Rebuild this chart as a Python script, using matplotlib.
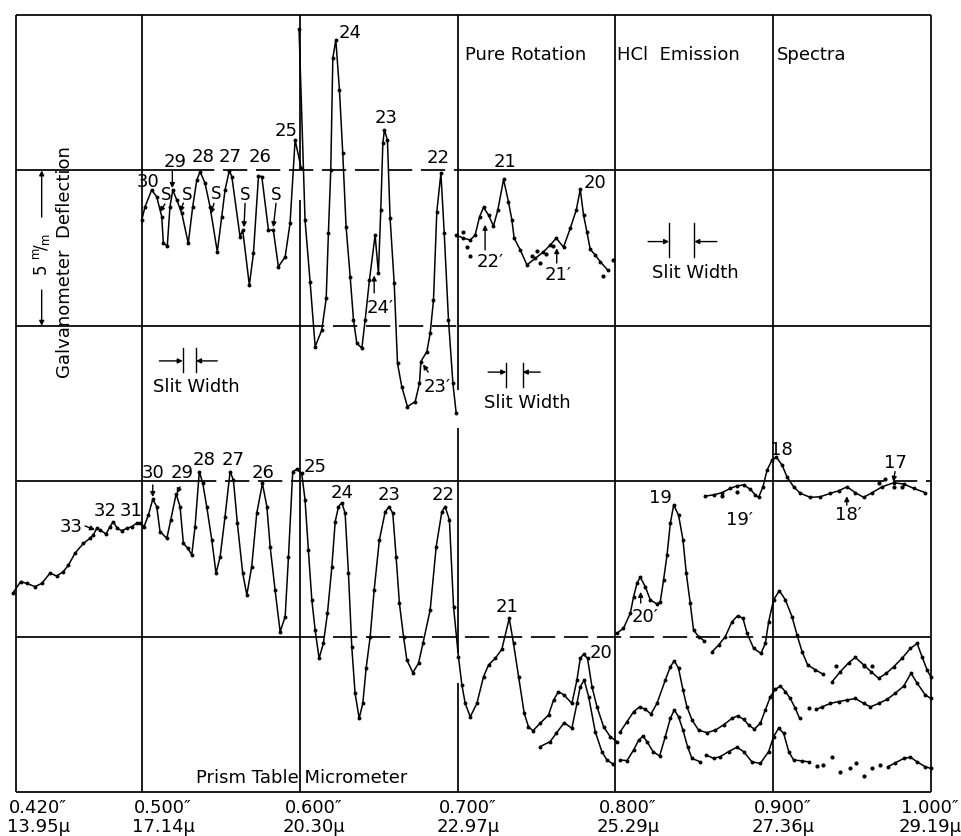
import matplotlib
matplotlib.use("Agg")
import matplotlib.pyplot as plt

plt.rcParams['font.family'] = ['DejaVu Sans']

# ---------------- data (x: prism table micrometer reading in inches, y: deflection in mm) ----
grid_x = [0.42, 0.50, 0.60, 0.70, 0.80, 0.90, 1.00]
grid_y = [0, 5, 10, 15, 20, 25]
tick_inch = ['0.420″', '0.500″', '0.600″', '0.700″', '0.800″', '0.900″', '1.000″']
tick_mu = ['13.95μ', '17.14μ', '20.30μ', '22.97μ', '25.29μ', '27.36μ', '29.19μ']

# upper record, lines 30 .. 25
upper_a_x = [0.4998, 0.5019, 0.5061, 0.5093, 0.5125, 0.5135, 0.5160, 0.5177, 0.5195, 0.5220,
             0.5252, 0.5293, 0.5321, 0.5347, 0.5368, 0.5399, 0.5431, 0.5477, 0.5505, 0.5526,
             0.5553, 0.5569, 0.5621, 0.5638, 0.5680, 0.5706, 0.5738, 0.5759, 0.5801, 0.5832,
             0.5864, 0.5907, 0.5938, 0.5970, 0.6008]
upper_a_y = [18.40, 18.83, 19.37, 19.15, 18.51, 17.65, 17.57, 18.83, 19.37, 19.05,
             18.62, 17.65, 18.83, 19.69, 19.96, 19.59, 18.83, 17.38, 18.51, 19.37,
             19.99, 19.80, 17.87, 18.08, 16.31, 17.33, 19.82, 19.80, 18.08, 18.08,
             16.90, 17.22, 18.30, 20.98, 20.08]
# upper record, lines 24 .. 22
upper_b_x = [0.5995, 0.6033, 0.6065, 0.6097, 0.6139, 0.6167, 0.6181, 0.6196, 0.6209, 0.6228,
             0.6251, 0.6272, 0.6293, 0.6319, 0.6340, 0.6361, 0.6393, 0.6414, 0.6441, 0.6477,
             0.6498, 0.6513, 0.6526, 0.6536, 0.6555, 0.6572, 0.6598, 0.6619, 0.6646, 0.6682,
             0.6731, 0.6758, 0.6767, 0.6805, 0.6826, 0.6847, 0.6868, 0.6894, 0.6915, 0.6942,
             0.6970, 0.6991]
upper_b_y = [24.55, 18.40, 16.42, 14.33, 14.86, 15.88, 17.98, 20.01, 23.61, 24.20,
             22.59, 20.55, 18.19, 16.58, 15.19, 14.44, 14.28, 15.19, 16.47, 17.92,
             16.69, 18.73, 20.87, 21.30, 20.98, 18.46, 16.37, 13.79, 13.04, 12.40,
             12.56, 13.15, 13.85, 14.17, 14.76, 15.83, 18.67, 19.91, 17.98, 15.19,
             13.15, 12.18]
# upper record, lines 21 .. 20
upper_c_x = [0.6991, 0.7037, 0.7080, 0.7111, 0.7139, 0.7164, 0.7196, 0.7227, 0.7255, 0.7291,
             0.7322, 0.7344, 0.7358, 0.7397, 0.7439, 0.7492, 0.7544, 0.7587, 0.7625, 0.7671,
             0.7714, 0.7752, 0.7777, 0.7798, 0.7819, 0.7840, 0.7872, 0.7904, 0.7950]
upper_c_y = [17.92, 17.82, 17.76, 17.92, 18.51, 18.81, 18.56, 18.21, 18.73, 19.71,
             18.99, 18.40, 17.82, 17.44, 16.96, 17.17, 17.38, 17.60, 17.82, 17.53,
             18.14, 18.73, 19.39, 18.56, 18.03, 17.46, 17.28, 17.06, 16.80]
upper_c_dots_x = [0.7035, 0.7060, 0.7080, 0.7471, 0.7502, 0.7523, 0.7561, 0.7604, 0.7921, 0.7986]
upper_c_dots_y = [18.02, 17.54, 17.25, 17.25, 17.42, 17.02, 17.31, 17.57, 16.60, 17.12]

# lower record, main trace 33 .. 20
lower_x = [0.4180, 0.4231, 0.4269, 0.4322, 0.4364, 0.4417, 0.4459, 0.4501, 0.4533, 0.4575,
           0.4628, 0.4670, 0.4691, 0.4713, 0.4734, 0.4772, 0.4797, 0.4818, 0.4843, 0.4871,
           0.4903, 0.4935, 0.4966, 0.4987, 0.5013, 0.5040, 0.5068, 0.5093, 0.5114, 0.5157,
           0.5182, 0.5216, 0.5241, 0.5262, 0.5290, 0.5315, 0.5336, 0.5363, 0.5385, 0.5410,
           0.5442, 0.5469, 0.5495, 0.5526, 0.5558, 0.5579, 0.5604, 0.5638, 0.5664, 0.5695,
           0.5727, 0.5763, 0.5791, 0.5812, 0.5843, 0.5875, 0.5907, 0.5928, 0.5955, 0.5981,
           0.6012, 0.6033, 0.6054, 0.6076, 0.6097, 0.6122, 0.6149, 0.6175, 0.6203, 0.6224,
           0.6245, 0.6266, 0.6287, 0.6308, 0.6329, 0.6350, 0.6376, 0.6399, 0.6420, 0.6446,
           0.6471, 0.6504, 0.6541, 0.6566, 0.6589, 0.6610, 0.6631, 0.6657, 0.6678, 0.6716,
           0.6752, 0.6780, 0.6826, 0.6864, 0.6900, 0.6921, 0.6948, 0.6974, 0.7005, 0.7027,
           0.7048, 0.7080, 0.7122, 0.7164, 0.7196, 0.7238, 0.7280, 0.7327, 0.7354, 0.7386,
           0.7422, 0.7449, 0.7477, 0.7523, 0.7576, 0.7608, 0.7639, 0.7675, 0.7724, 0.7756,
           0.7777, 0.7798, 0.7823, 0.7851, 0.7883, 0.7925, 0.7967, 0.8010]
lower_y = [6.39, 6.77, 6.71, 6.61, 6.71, 7.04, 6.95, 7.09, 7.30, 7.68,
           8.00, 8.16, 8.27, 8.48, 8.43, 8.30, 8.54, 8.70, 8.48, 8.41,
           8.48, 8.54, 8.65, 8.66, 8.54, 8.91, 9.42, 9.18, 8.38, 8.16,
           8.75, 9.59, 9.18, 8.00, 7.84, 7.63, 8.54, 10.31, 9.93, 9.18,
           8.11, 7.04, 7.57, 8.86, 10.31, 10.04, 8.65, 7.04, 6.34, 7.25,
           8.97, 9.93, 9.18, 7.89, 6.50, 5.16, 5.64, 7.57, 10.31, 10.38,
           10.25, 9.40, 7.79, 6.18, 5.21, 4.30, 4.78, 5.75, 7.25, 8.70,
           9.18, 9.31, 8.97, 7.04, 4.68, 3.18, 2.37, 2.85, 3.98, 5.00,
           6.50, 8.11, 9.02, 9.18, 8.97, 7.57, 6.07, 5.00, 4.25, 3.84,
           4.14, 4.78, 5.86, 7.89, 9.02, 9.18, 8.75, 5.96, 4.35, 3.44,
           2.85, 2.42, 2.85, 3.71, 4.09, 4.30, 4.59, 5.59, 4.78, 3.71,
           2.53, 2.10, 1.97, 2.21, 2.48, 2.96, 3.23, 3.12, 2.85, 3.60,
           4.30, 4.43, 4.30, 3.39, 2.74, 2.10, 1.78, 1.62]
# second lower trace near line 20
lower2_x = [0.7523, 0.7586, 0.7625, 0.7675, 0.7724, 0.7756, 0.7777, 0.7802, 0.7830, 0.7872,
            0.7914, 0.7946, 0.7984]
lower2_y = [1.46, 1.62, 1.89, 2.23, 2.05, 2.85, 3.39, 3.60, 3.07, 1.94,
            1.30, 1.03, 0.90]
# line 19 with 20'
l19_x = [0.8010, 0.8051, 0.8094, 0.8115, 0.8136, 0.8157, 0.8189, 0.8221, 0.8263, 0.8284,
         0.8305, 0.8327, 0.8348, 0.8369, 0.8400, 0.8428, 0.8449, 0.8474, 0.8495, 0.8527, 0.8563]
l19_y = [5.11, 5.27, 5.75, 6.28, 6.71, 6.91, 6.61, 6.18, 6.05, 6.12,
         6.82, 7.63, 8.65, 9.23, 8.91, 8.11, 7.04, 6.07, 5.21, 5.00, 4.86]
# trace following line 19
l18a_x = [0.8612, 0.8654, 0.8696, 0.8739, 0.8774, 0.8808, 0.8834, 0.8876, 0.8922, 0.8950,
          0.8971, 0.9002, 0.9039, 0.9077, 0.9119, 0.9151, 0.9183, 0.9218, 0.9267, 0.9316]
l18a_y = [4.51, 4.73, 5.00, 5.48, 5.67, 5.59, 5.11, 4.62, 4.46, 4.78,
          5.48, 6.18, 6.48, 6.18, 5.64, 5.05, 4.51, 4.09, 3.93, 3.79]
l17a_x = [0.9373, 0.9425, 0.9478, 0.9520, 0.9573, 0.9620, 0.9668, 0.9717, 0.9763, 0.9816,
          0.9869, 0.9912, 0.9943, 0.9975, 1.0000]
l17a_y = [3.55, 3.87, 4.16, 4.33, 4.09, 3.87, 3.66, 3.82, 4.03, 4.30,
          4.62, 4.78, 4.35, 3.93, 3.69]
l17a_dots_x = [0.9400, 0.9573, 0.9626]
l17a_dots_y = [4.05, 4.05, 4.05]
# middle trace right of 0.800"
mid_x = [0.8031, 0.8073, 0.8115, 0.8153, 0.8189, 0.8225, 0.8263, 0.8316, 0.8348, 0.8373,
         0.8400, 0.8428, 0.8453, 0.8485, 0.8527, 0.8580, 0.8633, 0.8685, 0.8739, 0.8774,
         0.8812, 0.8844, 0.8880, 0.8918, 0.8950, 0.8982, 0.9013, 0.9045, 0.9077, 0.9108,
         0.9140, 0.9167]
mid_y = [1.94, 2.26, 2.58, 2.74, 2.66, 2.51, 2.85, 3.60, 4.03, 4.22,
         3.98, 3.28, 2.74, 2.32, 1.99, 1.91, 1.99, 2.16, 2.37, 2.45,
         2.34, 2.16, 2.02, 2.21, 2.64, 3.07, 3.30, 3.41, 3.23, 3.01,
         2.69, 2.37]
mid2_x = [0.9273, 0.9309, 0.9362, 0.9414, 0.9468, 0.9520, 0.9573, 0.9616, 0.9668, 0.9721,
          0.9774, 0.9827, 0.9873, 0.9912, 0.9964, 1.0000]
mid2_y = [2.66, 2.74, 2.85, 2.91, 2.96, 3.01, 2.85, 2.74, 2.85, 2.98,
          3.18, 3.41, 3.82, 3.50, 3.12, 3.01]
mid_dots_x = [0.9224]
mid_dots_y = [2.69]
# bottom trace right of 0.800"
bot_a_x = [0.8031, 0.8073, 0.8115, 0.8147, 0.8175, 0.8200, 0.8238, 0.8280, 0.8316, 0.8348,
           0.8373, 0.8400, 0.8428, 0.8457, 0.8485, 0.8538]
bot_a_y = [1.03, 1.01, 1.35, 1.67, 1.80, 1.62, 1.30, 1.16, 1.78, 2.37,
           2.64, 2.42, 1.99, 1.46, 1.08, 0.97]
bot_b_x = [0.8576, 0.8622, 0.8665, 0.8717, 0.8770, 0.8812, 0.8865, 0.8918, 0.8971, 0.9002,
           0.9034, 0.9066, 0.9098, 0.9129, 0.9183, 0.9224]
bot_b_y = [1.19, 1.08, 1.14, 1.30, 1.44, 1.30, 0.97, 0.92, 1.30, 1.78,
           2.05, 1.89, 1.30, 1.03, 1.00, 0.97]
bot_dots_x = [0.9278, 0.9316, 0.9373, 0.9425, 0.9484, 0.9526, 0.9573, 0.9626, 0.9674]
bot_dots_y = [0.84, 0.87, 1.14, 0.65, 0.76, 0.92, 0.51, 0.76, 0.87]
bot_c_x = [0.9725, 0.9774, 0.9827, 0.9869, 0.9912, 0.9964, 1.0000]
bot_c_y = [0.81, 0.94, 1.08, 1.12, 0.97, 0.81, 0.76]
# small trace with line 18
l18_x = [0.8569, 0.8622, 0.8675, 0.8728, 0.8770, 0.8812, 0.8855, 0.8886, 0.8907, 0.8935,
         0.8961, 0.8992, 0.9020, 0.9056, 0.9087, 0.9129, 0.9172, 0.9235, 0.9298, 0.9362,
         0.9414, 0.9468, 0.9520, 0.9573, 0.9626, 0.9690, 0.9763, 0.9827, 0.9890, 0.9964]
l18_y = [9.52, 9.56, 9.63, 9.77, 9.85, 9.88, 9.74, 9.56, 9.48, 9.82,
         10.36, 10.68, 10.77, 10.52, 10.14, 9.82, 9.61, 9.48, 9.50, 9.61,
         9.69, 9.82, 9.63, 9.48, 9.63, 9.82, 9.95, 9.91, 9.77, 9.63]
l18_dots_x = [0.8675, 0.8770, 0.9668, 0.9710, 0.9763, 0.9816]
l18_dots_y = [9.52, 9.66, 9.95, 10.07, 9.80, 9.82]

# line labels: (text, x, y)
upper_labels = [('30', 0.5037, 19.63), ('29', 0.5209, 20.27), ('28', 0.5389, 20.44),
                ('27', 0.5558, 20.44), ('26', 0.5748, 20.44), ('25', 0.5911, 21.27),
                ('24', 0.6318, 24.42), ('23', 0.6546, 21.70), ('22', 0.6878, 20.40),
                ('S', 0.5152, 19.20), ('S', 0.5283, 19.21), ('S', 0.5469, 19.24),
                ('S', 0.5653, 19.21), ('S', 0.5849, 19.21),
                ("24′", 0.6509, 15.57), ("23′", 0.6868, 13.04),
                ('21', 0.7300, 20.28), ("22′", 0.7206, 17.06), ("21′", 0.7637, 16.63),
                ('20', 0.7871, 19.59)]
lower_labels = [('33', 0.4554, 8.52), ('32', 0.4765, 9.05), ('31', 0.4928, 9.05),
                ('30', 0.5068, 10.25), ('29', 0.5252, 10.25), ('28', 0.5393, 10.68),
                ('27', 0.5579, 10.68), ('26', 0.5769, 10.25), ('25', 0.6097, 10.47),
                ('24', 0.6266, 9.61), ('23', 0.6567, 9.56), ('22', 0.6906, 9.56),
                ('21', 0.7315, 5.96), ('20', 0.7907, 4.48), ("20′", 0.8188, 5.64),
                ('19', 0.8283, 9.45), ('18', 0.9054, 11.00), ("19′", 0.8789, 8.75),
                ("18′", 0.9476, 8.91), ('17', 0.9772, 10.58)]
# label arrows: (tail, tip)
label_arrows = [((0.5192, 20.01), (0.5192, 19.43)),
                ((0.5145, 18.92), (0.5112, 18.66)), ((0.5262, 18.95), (0.5241, 18.66)),
                ((0.5456, 18.94), (0.5435, 18.60)), ((0.5653, 18.94), (0.5646, 18.17)),
                ((0.5849, 18.94), (0.5832, 18.17)),
                ((0.6471, 16.06), (0.6471, 16.62)), ((0.6813, 13.51), (0.6781, 13.76)),
                ((0.7174, 17.44), (0.7174, 18.25)), ((0.7628, 17.02), (0.7628, 17.50)),
                ((0.4639, 8.56), (0.4702, 8.43)), ((0.5068, 9.88), (0.5068, 9.49)),
                ((0.5241, 9.82), (0.5220, 9.61)), ((0.8160, 6.08), (0.8160, 6.44)),
                ((0.9466, 9.23), (0.9466, 9.52)), ((0.9772, 10.31), (0.9761, 9.98))]

# slit width indicators: bar_left, bar_right, y_low, y_high, y_arrow, tail_left, tail_right, text x, text y
slits = [dict(b0=0.5258, b1=0.5342, ylo=13.51, yhi=14.29, ya=13.87, tl=0.5110, tr=0.5477, tx=0.5347, ty=13.04),
         dict(b0=0.7308, b1=0.7413, ylo=13.03, yhi=13.80, ya=13.51, tl=0.7193, tr=0.7523, tx=0.7439, ty=12.52),
         dict(b0=0.8340, b1=0.8500, ylo=17.21, yhi=18.31, ya=17.71, tl=0.8207, tr=0.8643, tx=0.8506, ty=16.70)]

# ---------------- figure ----------------
fig = plt.figure(figsize=(9.62, 8.36), dpi=100)
fig.patch.set_facecolor('white')
ax = fig.add_axes([0.01642, 0.05263, 0.9514, 0.92943])
ax.set_xlim(grid_x[0], grid_x[-1])
ax.set_ylim(grid_y[0], grid_y[-1])
ax.axis('off')

K = 'black'
LWG = 1.25
LWC = 1.1
DASH = (0, (14, 5))
FS = 13


def hseg(y, x0, x1, dashed=False):
    ax.plot([x0, x1], [y, y], color=K, lw=LWG, ls=DASH if dashed else '-',
            solid_capstyle='butt', clip_on=False)


def vseg(x, y0, y1):
    ax.plot([x, x], [y0, y1], color=K, lw=LWG, solid_capstyle='butt', clip_on=False)


# grid: horizontal rules (some partially dashed as in the original sheet)
hseg(grid_y[0], grid_x[0], grid_x[-1])
hseg(grid_y[5], grid_x[0], grid_x[-1])
hseg(grid_y[4], grid_x[0], 0.5304)
hseg(grid_y[4], 0.5304, grid_x[3], dashed=True)
hseg(grid_y[4], grid_x[3], grid_x[-1])
hseg(grid_y[3], grid_x[0], grid_x[2])
hseg(grid_y[3], grid_x[2], grid_x[3], dashed=True)
hseg(grid_y[3], grid_x[3], grid_x[-1])
hseg(grid_y[2], grid_x[0], 0.5317)
hseg(grid_y[2], 0.5317, 0.6033, dashed=True)
hseg(grid_y[2], 0.6033, 0.9550)
hseg(grid_y[2], 0.9550, grid_x[-1], dashed=True)
hseg(grid_y[1], grid_x[0], grid_x[2])
hseg(grid_y[1], grid_x[2], grid_x[5], dashed=True)
hseg(grid_y[1], grid_x[5], grid_x[-1])

# vertical rules
for gx in (grid_x[0], grid_x[1], grid_x[4], grid_x[5], grid_x[6]):
    vseg(gx, grid_y[0], grid_y[-1])
vseg(grid_x[2], grid_y[-1], 20.01)
vseg(grid_x[2], 19.04, grid_y[0])
vseg(grid_x[3], grid_y[-1], 12.93)
vseg(grid_x[3], 11.71, 4.47)
vseg(grid_x[3], 3.51, grid_y[0])

# traces
curve_kw = dict(color=K, lw=LWC, marker='o', ms=1.8, clip_on=False)
for xs, ys in [(upper_a_x, upper_a_y), (upper_b_x, upper_b_y), (upper_c_x, upper_c_y),
               (lower_x, lower_y), (lower2_x, lower2_y), (l19_x, l19_y),
               (l18a_x, l18a_y), (l17a_x, l17a_y), (mid_x, mid_y), (mid2_x, mid2_y),
               (bot_a_x, bot_a_y), (bot_b_x, bot_b_y), (bot_c_x, bot_c_y), (l18_x, l18_y)]:
    ax.plot(xs, ys, **curve_kw)

for xs, ys in [(upper_c_dots_x, upper_c_dots_y), (l17a_dots_x, l17a_dots_y),
               (mid_dots_x, mid_dots_y), (bot_dots_x, bot_dots_y), (l18_dots_x, l18_dots_y)]:
    ax.plot(xs, ys, ls='none', marker='o', ms=2.0, color=K, clip_on=False)

# labels
for t, x, y in upper_labels + lower_labels:
    fs = FS - 1 if t == 'S' else FS
    ax.text(x, y, t, fontsize=fs, ha='center', va='center')

arrow_kw = dict(arrowstyle='-|>', color=K, lw=1.0, mutation_scale=7, shrinkA=0, shrinkB=0)
for tail, tip in label_arrows:
    ax.annotate('', xy=tip, xytext=tail, arrowprops=arrow_kw, annotation_clip=False)

# slit widths
for s in slits:
    ax.plot([s['b0'], s['b0']], [s['ylo'], s['yhi']], color=K, lw=1.0)
    ax.plot([s['b1'], s['b1']], [s['ylo'], s['yhi']], color=K, lw=1.0)
    ax.annotate('', xy=(s['b0'], s['ya']), xytext=(s['tl'], s['ya']), arrowprops=arrow_kw)
    ax.annotate('', xy=(s['b1'], s['ya']), xytext=(s['tr'], s['ya']), arrowprops=arrow_kw)
    ax.text(s['tx'], s['ty'], 'Slit Width', fontsize=FS, ha='center', va='center')

# title pieces
ax.text(0.7047, 23.71, 'Pure Rotation', fontsize=FS, ha='left', va='center')
ax.text(0.8010, 23.71, 'HCl  Emission', fontsize=FS, ha='left', va='center')
ax.text(0.9025, 23.71, 'Spectra', fontsize=FS, ha='left', va='center')

# y-axis description
ax.text(0.4512, 17.05, 'Galvanometer  Deflection', fontsize=FS, rotation=90,
        ha='center', va='center')
ax.text(0.4366, 17.30, r'5 $^{\mathrm{m}}\!/_{\mathrm{m}}$', fontsize=FS - 1, rotation=90,
        ha='center', va='center')
ax.annotate('', xy=(0.4364, grid_y[4]), xytext=(0.4364, 18.50), arrowprops=arrow_kw)
ax.annotate('', xy=(0.4364, grid_y[3]), xytext=(0.4364, 16.15), arrowprops=arrow_kw)

# x-axis description and tick labels
ax.text(0.6012, 0.45, 'Prism Table Micrometer', fontsize=FS, ha='center', va='center')
tick_dx = [0.0141, 0.0133, 0.0090, 0.0066, 0.0080, 0.0062, -0.0006]
for gx, a, b, dx in zip(grid_x, tick_inch, tick_mu, tick_dx):
    ax.text(gx + dx, -0.52, a, fontsize=FS, ha='center', va='center', clip_on=False)
    ax.text(gx + dx, -1.13, b, fontsize=FS, ha='center', va='center', clip_on=False)

fig.savefig('out.png', dpi=100, facecolor='white')
